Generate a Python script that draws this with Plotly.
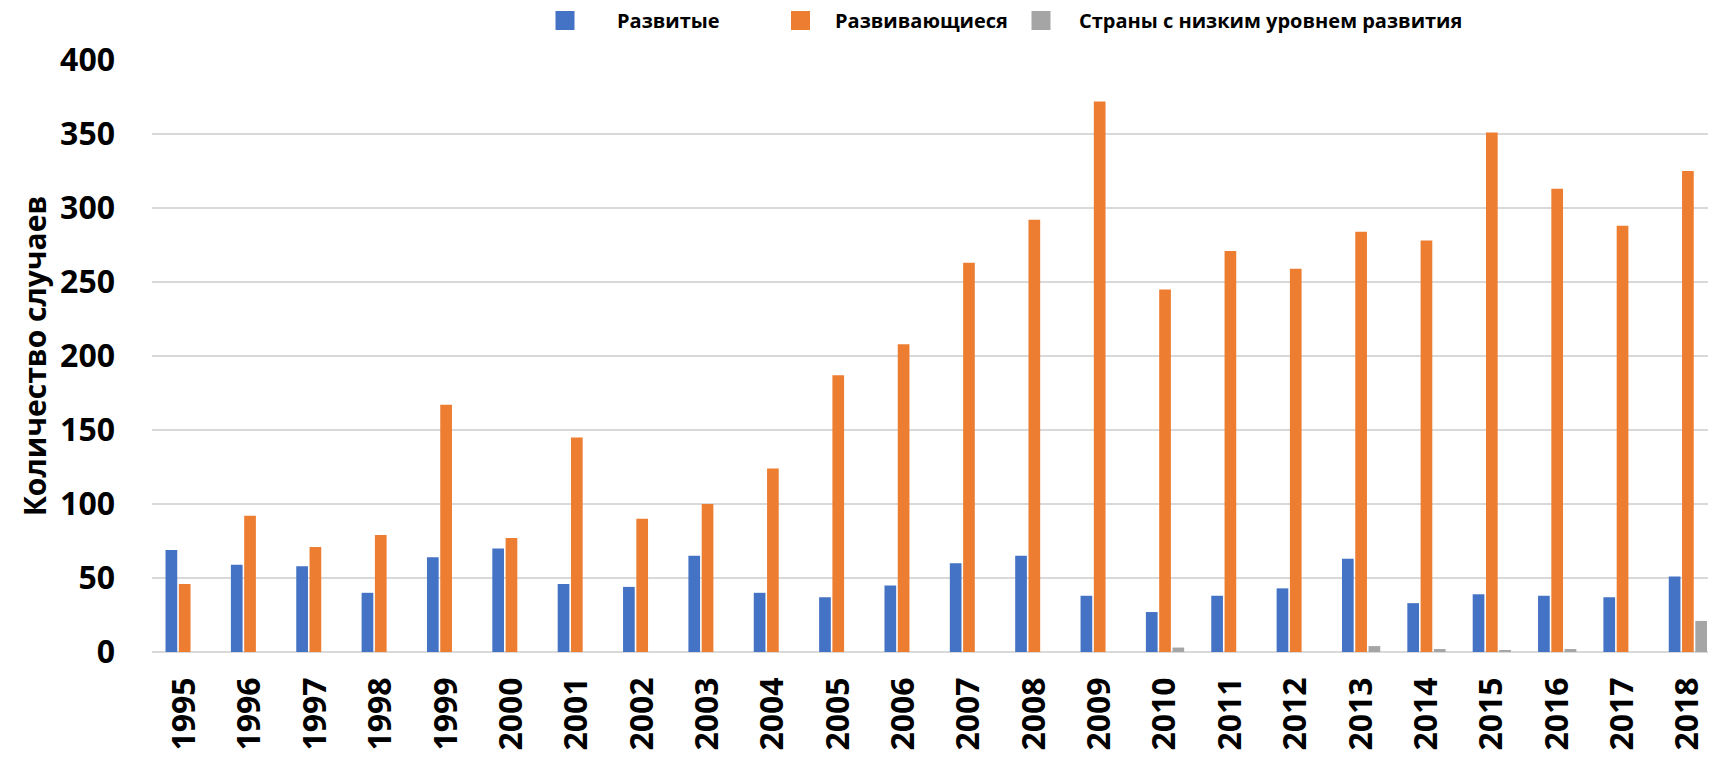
import plotly.graph_objects as go

years = [str(y) for y in range(1995, 2019)]
developed = [69, 59, 58, 40, 64, 70, 46, 44, 65, 40, 37, 45, 60, 65, 38, 27, 38, 43, 63, 33, 39, 38, 37, 51]
developing = [46, 92, 71, 79, 167, 77, 145, 90, 100, 124, 187, 208, 263, 292, 372, 245, 271, 259, 284, 278, 351, 313, 288, 325]
least_developed = [0, 0, 0, 0, 0, 0, 0, 0, 0, 0, 0, 0, 0, 0, 0, 3, 0, 0, 4, 2, 1, 2, 0, 21]

names = ["Развитые", "Развивающиеся", "Страны с низким уровнем развития"]
colors = ["#4472C4", "#ED7D31", "#A5A5A5"]
y_ticks = [0, 50, 100, 150, 200, 250, 300, 350, 400]

FONT = "Open Sans"
OFF = 8  # default body margin of the html page
W, H = 1716 - OFF, 757 - OFF
L, T = 152 - OFF, 60 - OFF
R = 0
B = H - (652 - OFF)
PW = W - L - R
PH = H - T - B


def px_x(page_x):
    return (page_x - OFF - L) / PW


def px_y(page_y):
    return 1 + (T - (page_y - OFF)) / PH


fig = go.Figure()
legend_ids = ["legend", "legend2", "legend3"]
for name, vals, col, lid in zip(names, [developed, developing, least_developed], colors, legend_ids):
    fig.add_trace(go.Bar(x=years, y=vals, name=name, showlegend=False,
                         marker=dict(color=col, line=dict(width=0))))
    fig.add_trace(go.Scatter(x=[None], y=[None], mode="markers", name=name, legend=lid,
                             marker=dict(symbol="square", size=16, color=col,
                                         line=dict(color=col, width=3))))

legend_common = dict(
    orientation="h", yanchor="top", y=px_y(1),
    font=dict(family=FONT, size=20, color="black", weight="bold"),
    itemsizing="trace", bgcolor="rgba(0,0,0,0)",
)
fig.update_layout(
    width=W, height=H,
    margin=dict(l=L, r=R, t=T, b=B, autoexpand=False),
    paper_bgcolor="white", plot_bgcolor="white",
    barmode="group", bargap=0.39, bargroupgap=0.12,
    font=dict(family=FONT, color="black"),
    legend=dict(x=px_x(513), xanchor="left", itemwidth=94, **legend_common),
    legend2=dict(x=px_x(766), xanchor="left", itemwidth=59, **legend_common),
    legend3=dict(x=px_x(1003), xanchor="left", itemwidth=66, **legend_common),
    showlegend=True,
)
fig.update_xaxes(
    type="category", range=[-0.5, 23.43], tickangle=-90,
    tickfont=dict(family=FONT, size=32, color="black", weight="bold"),
    showgrid=False, showline=False, ticks="", ticklabelstandoff=18,
)
fig.update_yaxes(
    range=[0, 400], tickvals=y_ticks,
    tickfont=dict(family=FONT, size=32, color="black", weight="bold"),
    showgrid=True, gridcolor="#D9D9D9", gridwidth=1.5,
    zeroline=True, zerolinecolor="#D9D9D9", zerolinewidth=1.5,
    showline=False, ticks="", ticklabelstandoff=36,
    title=dict(text="Количество случаев", font=dict(family=FONT, size=30, color="black", weight="bold"), standoff=4),
)

fig.write_html("out.html")
